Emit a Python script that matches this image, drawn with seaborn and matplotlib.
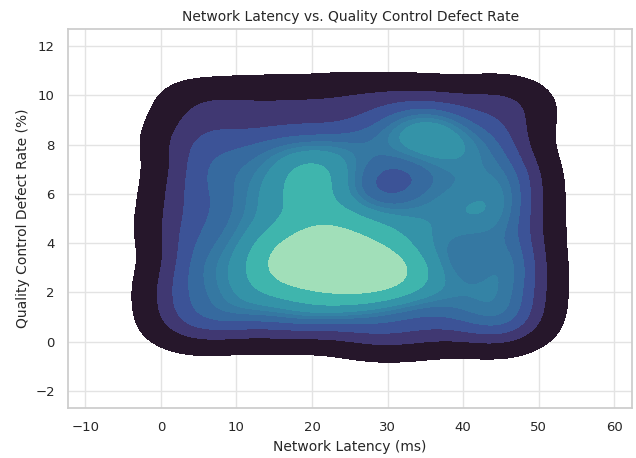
import matplotlib
matplotlib.use("Agg")
import matplotlib.pyplot as plt
import seaborn as sns
import pandas as pd

# Observed latency / defect-rate pairs
latency_ms = [
    1.0, 5.8, 10.9, 16.2, 20.7, 25.9, 30.8, 35.5, 40.6, 45.2, 48.6,
    2.4, 7.7, 12.6, 17.9, 23.1, 28.0, 33.4, 38.2, 43.5, 47.8,
    0.6, 5.2, 10.4, 14.8, 17.6, 20.3, 22.8, 25.5, 28.4, 31.0, 35.9, 41.2, 45.9, 48.9,
    2.9, 8.1, 13.5, 16.1, 18.9, 21.4, 24.0, 26.7, 29.2, 33.8, 38.9, 44.0, 48.4,
    0.3, 5.6, 11.2, 15.4, 19.8, 22.5, 25.1, 28.3, 32.7, 37.1, 42.4, 47.0,
    3.5, 8.8, 13.9, 18.0, 21.2, 26.2, 31.4, 36.3, 40.8, 45.6, 49.0,
    1.4, 6.9, 12.1, 17.0, 19.6, 22.3, 27.4, 34.5, 39.3, 44.7, 48.5,
    3.8, 9.2, 14.7, 19.9, 24.8, 29.8, 36.6, 41.5, 46.4,
    0.9, 6.2, 11.5, 16.8, 22.0, 27.2, 32.1, 34.3, 36.0, 37.5, 42.9, 47.4,
    2.7, 7.9, 13.0, 18.4, 23.6, 28.9, 33.9, 39.6, 44.8, 48.6,
    30.6,
]
defect_rate = [
    0.6, 0.3, 0.7, 0.4, 0.8, 0.2, 0.1, 0.3, 0.5, 0.2, 0.7,
    1.5, 1.2, 1.7, 1.3, 1.6, 1.1, 1.4, 1.8, 1.2, 1.5,
    2.3, 2.6, 2.2, 2.7, 2.4, 2.9, 2.2, 2.6, 2.3, 2.8, 2.5, 2.1, 2.7, 2.4,
    3.5, 3.2, 3.6, 3.1, 3.8, 3.3, 3.6, 3.0, 3.5, 3.2, 3.7, 3.3, 3.6,
    4.6, 4.2, 4.5, 4.1, 4.7, 4.3, 4.8, 4.2, 4.6, 4.4, 4.8, 4.2,
    5.5, 5.2, 5.6, 5.3, 5.8, 5.4, 5.1, 5.7, 5.3, 5.6, 5.2,
    6.3, 6.6, 6.2, 6.5, 6.9, 6.4, 6.7, 6.2, 6.6, 6.3, 6.7,
    7.5, 7.2, 7.6, 7.3, 7.7, 7.5, 7.4, 7.6, 7.2,
    8.3, 8.6, 8.2, 8.5, 8.3, 8.7, 8.4, 8.8, 8.2, 8.6, 8.3, 8.5,
    9.9, 9.7, 10.0, 9.8, 10.1, 9.9, 10.0, 9.8, 10.0, 9.7,
    2.5,
]

df = pd.DataFrame({"Network Latency (ms)": latency_ms,
                   "Quality Control Defect Rate (%)": defect_rate})

sns.set_theme(style="whitegrid")
fig, ax = plt.subplots(figsize=(6.36, 4.58), dpi=100)
fig.subplots_adjust(left=0.107, right=0.994, bottom=0.109, top=0.937)

sns.kdeplot(data=df, x="Network Latency (ms)", y="Quality Control Defect Rate (%)",
            fill=True, cmap="mako", bw_adjust=0.65, ax=ax)

ax.set_xlim(-12.3, 62.4)
ax.set_ylim(-2.7, 12.7)
ax.set_title("Network Latency vs. Quality Control Defect Rate", fontsize=10)
ax.set_xlabel("Network Latency (ms)", fontsize=10)
ax.set_ylabel("Quality Control Defect Rate (%)", fontsize=10)
ax.tick_params(labelsize=9.5)
ax.grid(color="#e3e3e3")

fig.savefig("out.png", dpi=100)
